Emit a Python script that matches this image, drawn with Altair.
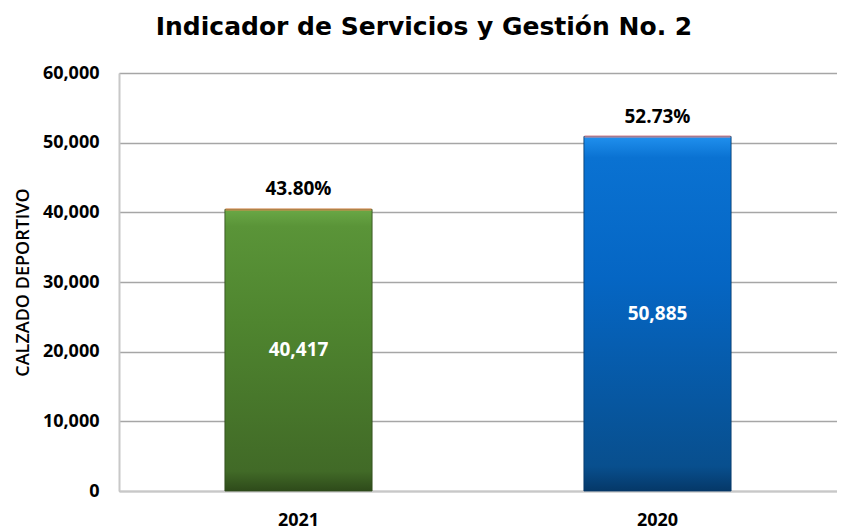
import altair as alt
import pandas as pd

years = ["2021", "2020"]
values = [40417, 50885]
pcts = ["43.80%", "52.73%"]
top_colors = ["#D98A4E", "#D98A96"]

df = pd.DataFrame({"year": years, "value": values, "pct": pcts,
                   "half": [v / 2 for v in values], "top": top_colors})

FONT = "Open Sans"

x_enc = alt.X("year:N", sort=years,
              scale=alt.Scale(domain=years, paddingInner=0.59, paddingOuter=0.295),
              axis=alt.Axis(title=None, labelAngle=0, labelFont=FONT, labelFontSize=18,
                            labelFontWeight="bold", labelColor="#000000", labelPadding=20,
                            domainColor="#C8C8C8", domainWidth=2, ticks=False, grid=False))
y_enc = alt.Y("value:Q",
              scale=alt.Scale(domain=[0, 60000], nice=False),
              axis=alt.Axis(title="CALZADO DEPORTIVO", values=[0, 10000, 20000, 30000, 40000, 50000, 60000],
                            format=",.0f", labelFont=FONT, labelFontSize=18, labelFontWeight="bold",
                            labelColor="#000000", labelPadding=20, ticks=False,
                            domainColor="#C8C8C8", domainWidth=2,
                            gridColor="#A6A6A6", gridWidth=1.5,
                            titleFont=FONT, titleFontSize=18, titleFontWeight=600,
                            titleColor="#000000", titlePadding=10))

base = alt.Chart(df)

green_grad = {"gradient": "linear", "x1": 0, "y1": 0, "x2": 0, "y2": 1,
              "stops": [{"offset": 0, "color": "#6AA846"},
                        {"offset": 0.06, "color": "#5A9438"},
                        {"offset": 0.4, "color": "#4F852F"},
                        {"offset": 0.93, "color": "#416A27"},
                        {"offset": 1, "color": "#2E4A1A"}]}
blue_grad = {"gradient": "linear", "x1": 0, "y1": 0, "x2": 0, "y2": 1,
             "stops": [{"offset": 0, "color": "#2090EE"},
                       {"offset": 0.06, "color": "#0A72D2"},
                       {"offset": 0.4, "color": "#0566C4"},
                       {"offset": 0.93, "color": "#084F8E"},
                       {"offset": 1, "color": "#053868"}]}

bar_green = base.transform_filter(alt.datum.year == "2021").mark_bar(
    color=green_grad, stroke="#2E4A1A", strokeWidth=0.8).encode(x=x_enc, y=y_enc)
bar_blue = base.transform_filter(alt.datum.year == "2020").mark_bar(
    color=blue_grad, stroke="#053868", strokeWidth=0.8).encode(x=x_enc, y=y_enc)

top_line = base.mark_tick(thickness=2.5, size=146).encode(
    x=alt.X("year:N", sort=years), y="value:Q",
    color=alt.Color("top:N", scale=None))

pct_text = base.mark_text(font=FONT, fontSize=19, fontWeight="bold", color="#000000",
                          baseline="bottom", dy=-10).encode(
    x=alt.X("year:N", sort=years), y="value:Q", text="pct:N")

val_text = base.mark_text(font=FONT, fontSize=19, fontWeight="bold", color="#FFFFFF",
                          baseline="middle").encode(
    x=alt.X("year:N", sort=years), y="half:Q", text=alt.Text("value:Q", format=",.0f"))

chart = alt.layer(bar_green, bar_blue, top_line, pct_text, val_text).properties(
    width=718, height=418,
    title=alt.TitleParams("Indicador  de Servicios y Gestión No. 2", font="DejaVu Sans", fontSize=25,
                          fontWeight="bold", color="#000000", anchor="middle", dx=-54,
                          offset=24),
    autosize=alt.AutoSizeParams(type="none"),
    padding={"left": 111, "top": 65, "right": 0, "bottom": 42},
).configure_view(stroke=None).configure(background="#FFFFFF")

chart.save("out.html", embed_options={"renderer": "svg", "actions": False})
